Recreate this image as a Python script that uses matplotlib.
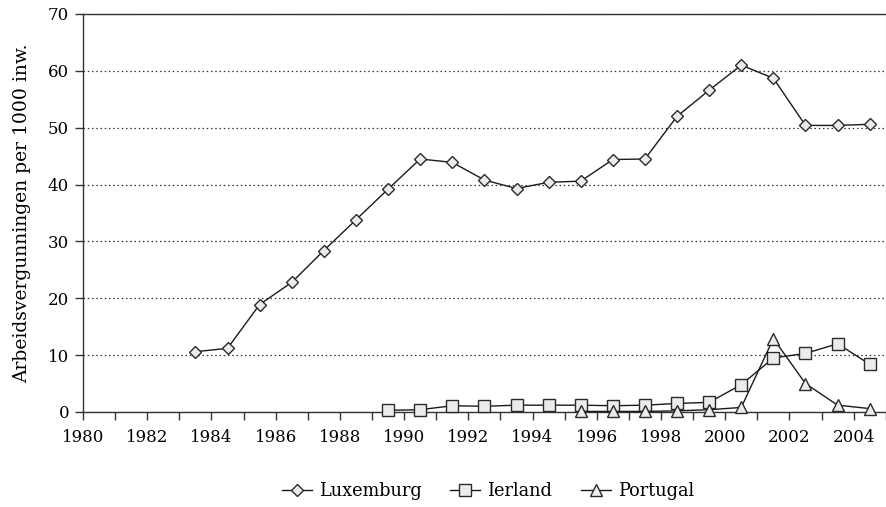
import matplotlib
matplotlib.use("Agg")
import matplotlib.pyplot as plt
import numpy as np
from matplotlib.ticker import MultipleLocator

plt.rcParams["font.family"] = ["DejaVu Serif"]
plt.rcParams["font.size"] = 11.5

# Data (values per 1000 inhabitants, plotted mid-year)
lux_years = np.arange(1983, 2005)
lux_values = [10.6, 11.2, 18.9, 22.8, 28.4, 33.8, 39.2, 44.5, 43.9, 40.8, 39.3,
              40.4, 40.6, 44.4, 44.5, 52.0, 56.6, 61.0, 58.7, 50.4, 50.4, 50.6]

irl_years = np.arange(1989, 2005)
irl_values = [0.3, 0.4, 1.1, 1.0, 1.2, 1.2, 1.2, 1.1, 1.2, 1.5, 1.7, 4.8,
              9.5, 10.3, 12.0, 8.4]

por_years = np.arange(1995, 2005)
por_values = [0.1, 0.1, 0.1, 0.2, 0.4, 0.8, 12.9, 5.0, 1.2, 0.6]

fig = plt.figure(figsize=(8.87, 5.07), dpi=100)
ax = fig.add_axes([0.0936, 0.1874, 0.905, 0.785])

style = dict(color="#1a1a1a", linewidth=1.0, markerfacecolor="#ebebeb",
             markeredgecolor="#2a2a2a", markeredgewidth=1.0, clip_on=False, zorder=3)
ax.plot(lux_years + 0.5, lux_values, marker="D", markersize=6.5, label="Luxemburg", **style)
ax.plot(irl_years + 0.5, irl_values, marker="s", markersize=8, label="Ierland", **style)
ax.plot(por_years + 0.5, por_values, marker="^", markersize=8, label="Portugal", **style)

ax.set_xlim(1980, 2005)
ax.set_ylim(0, 70)
ax.set_xticks(np.arange(1980, 2005, 2))
ax.xaxis.set_minor_locator(MultipleLocator(1))
ax.set_yticks(np.arange(0, 71, 10))
ax.tick_params(axis="both", direction="out", length=6, width=1.0, color="#333333", pad=4)
ax.tick_params(axis="x", which="minor", direction="out", length=6, width=1.0, color="#333333")
ax.tick_params(axis="x", labelsize=12, pad=6)
ax.tick_params(axis="y", labelsize=12)
ax.grid(axis="y", linestyle=(0, (1.2, 2.2)), color="#333333", linewidth=0.9)

for side in ["left", "bottom", "top"]:
    ax.spines[side].set_color("#333333")
    ax.spines[side].set_linewidth(1.0)
ax.spines["right"].set_color("#9a9a9a")
ax.spines["right"].set_linewidth(0.8)

ax.set_ylabel("Arbeidsvergunningen per 1000 inw.", fontsize=13.5, labelpad=12)

fig.legend(loc="center", bbox_to_anchor=(0.55, 0.031), ncol=3, frameon=False,
           fontsize=12.8, handlelength=1.7, handletextpad=0.4, columnspacing=1.6)

fig.savefig("out.png", dpi=100)
